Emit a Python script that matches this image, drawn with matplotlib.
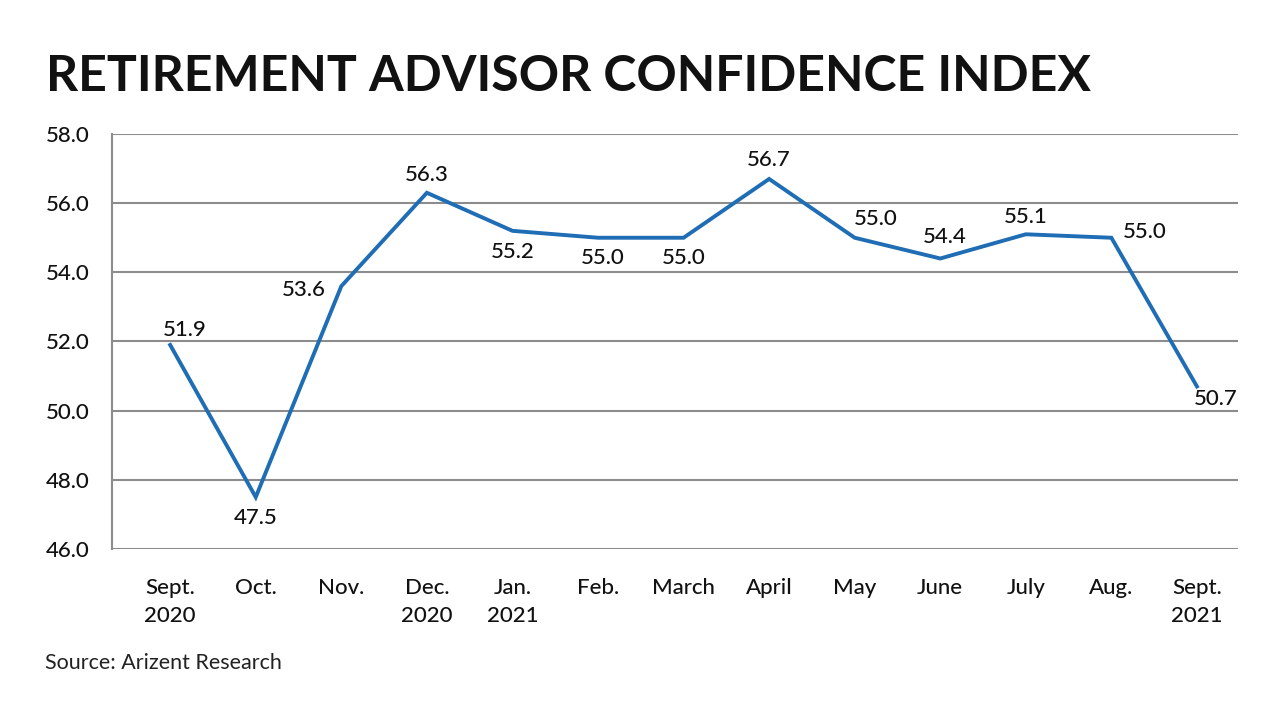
import matplotlib
matplotlib.use('Agg')
import matplotlib.pyplot as plt

# Datos del índice
meses = ["Sept.\n2020", "Oct.", "Nov.", "Dec.\n2020", "Jan.\n2021", "Feb.", "March",
         "April", "May", "June", "July", "Aug.", "Sept.\n2021"]
valores = [51.9, 47.5, 53.6, 56.3, 55.2, 55.0, 55.0, 56.7, 55.0, 54.4, 55.1, 55.0, 50.7]
yticks = [46.0, 48.0, 50.0, 52.0, 54.0, 56.0, 58.0]

# desplazamiento de etiquetas (pixeles)
offsets = [(15, 15), (0, -21), (-38, -4), (0, 18), (0, -21), (5, -20), (0, -20),
           (0, 19), (21, 19), (4, 21), (0, 17), (33, 6), (19, -13)]

plt.rcParams['font.family'] = ['Lato', 'DejaVu Sans']

fig = plt.figure(figsize=(12.8, 7.2), dpi=100)
ax = fig.add_axes([0.0875, 0.2375, 0.8797, 0.5764])

x = list(range(len(meses)))
ax.plot(x, valores, color='#1f6db4', linewidth=2.8, solid_joinstyle='miter', zorder=3)

for xi, v, (dx, dy) in zip(x, valores, offsets):
    ax.annotate(f'{v:.1f}', xy=(xi, v), xytext=(dx, dy), textcoords='offset pixels',
                ha='center', va='center', fontsize=16, fontweight='medium',
                color='#111111', zorder=4)

ax.set_xlim(-0.68, 12.48)
ax.set_ylim(46, 58)
ax.set_yticks(yticks)
ax.set_yticklabels([f'{t:.1f}' for t in yticks])
ax.set_xticks(x)
ax.set_xticklabels(meses, linespacing=1.5)
ax.tick_params(axis='both', length=0, labelsize=16, colors='#111111')
for lbl in ax.get_xticklabels() + ax.get_yticklabels():
    lbl.set_fontweight('medium')
ax.tick_params(axis='x', pad=21)
ax.tick_params(axis='y', pad=16)

ax.grid(True, axis='y', color='#8c8c8c', linewidth=1.5, zorder=1)
for s in ['top', 'right', 'bottom']:
    ax.spines[s].set_visible(False)
ax.spines['left'].set_color('#8c8c8c')
ax.spines['left'].set_linewidth(1.5)

fig.text(0.036, 0.894, 'RETIREMENT ADVISOR CONFIDENCE INDEX', fontsize=36,
         fontweight='bold', color='#111111', ha='left', va='center')
fig.text(0.035, 0.079, 'Source: Arizent Research', fontsize=15.5, color='#222222',
         ha='left', va='center')

fig.savefig('out.png', dpi=100)
